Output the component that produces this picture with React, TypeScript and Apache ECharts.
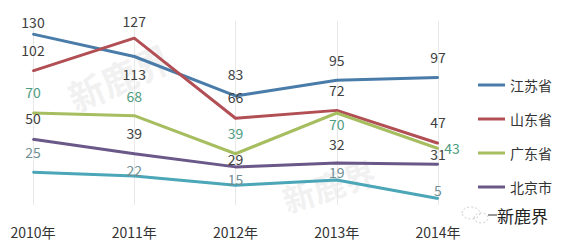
import React, { useEffect, useRef } from "react";
import * as echarts from "echarts";

const years = ["2010年", "2011年", "2012年", "2013年", "2014年"];
const jiangsu = [130, 113, 83, 95, 97];
const shandong = [102, 127, 66, 72, 47];
const guangdong = [70, 68, 39, 70, 43];
const beijing = [50, 39, 29, 32, 31];
const other = [25, 22, 15, 19, 5];

const seriesNames = ["江苏省", "山东省", "广东省", "北京市", "其他"];
const seriesValues = [jiangsu, shandong, guangdong, beijing, other];
const lineColors = ["#4a7ca9", "#b14f55", "#a6bd60", "#6a5889", "#4ba6b8"];
const labelColors = ["#404040", "#404040", "#4e9c80", "#404040", "#6f8f95"];
// label offsets (px) relative to each point: [dx, dy]
const labelOffsets: number[][][] = [
  [[0, -12], [0, 18], [0, -22], [0, -20], [0, -21]],
  [[0, -21], [0, -17], [0, -21], [0, -20], [0, -21]],
  [[0, -21], [0, -20], [0, -21], [0, 11], [14, 0]],
  [[0, -21], [0, -21], [0, -8], [0, -19], [0, -10]],
  [[0, -20], [0, -6], [0, -6], [0, -8], [0, -8]],
];

const FONT = "'Noto Sans CJK SC', 'Noto Sans', sans-serif";

export default function App() {
  const ref = useRef<HTMLDivElement>(null);
  useEffect(() => {
    if (!ref.current) return;
    const chart = echarts.init(ref.current, undefined, { renderer: "svg" });
    const series = seriesValues.map((vals, si) => ({
      name: seriesNames[si],
      type: "line",
      symbol: "circle",
      symbolSize: 2,
      z: 2 + si,
      lineStyle: { color: lineColors[si], width: 3 },
      itemStyle: { color: lineColors[si] },
      emphasis: { disabled: true },
      data: vals.map((v, i) => ({
        value: v,
        label: {
          show: true,
          position: "inside",
          offset: labelOffsets[si][i],
          color: labelColors[si],
          fontSize: 14,
          lineHeight: 14,
          fontFamily: FONT,
        },
      })),
    }));
    chart.setOption({
      animation: false,
      backgroundColor: "#ffffff",
      textStyle: { fontFamily: FONT },
      grid: { left: 33, right: 136, top: 21, bottom: 40 },
      xAxis: {
        type: "category",
        data: years,
        boundaryGap: false,
        axisLine: { show: false },
        axisTick: { show: false },
        splitLine: { show: true, lineStyle: { color: "#e8e8e8", width: 1 } },
        axisLabel: { margin: 20, fontSize: 14, color: "#333333", fontFamily: FONT },
      },
      yAxis: { type: "value", min: 0, max: 140, show: false },
      legend: {
        orient: "vertical",
        left: 473,
        top: 73,
        icon: "rect",
        itemWidth: 27,
        itemHeight: 3,
        itemGap: 20,
        data: seriesNames.slice(0, 4),
        textStyle: { fontSize: 14, lineHeight: 14, color: "#333333", fontFamily: FONT },
      },
      graphic: [
        {
          type: "text",
          x: 62,
          y: 82,
          rotation: 0.42,
          z: 0,
          style: {
            text: "新鹿界",
            fontSize: 36,
            fontWeight: "bold",
            fill: "rgba(200,200,200,0.25)",
            fontFamily: FONT,
          },
        },
        {
          type: "text",
          x: 278,
          y: 185,
          rotation: 0.32,
          z: 0,
          style: {
            text: "新鹿界",
            fontSize: 32,
            fontWeight: "bold",
            fill: "rgba(200,200,200,0.25)",
            fontFamily: FONT,
          },
        },
        {
          type: "ellipse",
          shape: { cx: 471, cy: 213, rx: 9, ry: 6 },
          style: { fill: "none", stroke: "#d0d0d0", lineWidth: 1, lineDash: [2, 2] },
        },
        {
          type: "ellipse",
          shape: { cx: 481, cy: 218, rx: 7, ry: 5 },
          style: { fill: "none", stroke: "#d0d0d0", lineWidth: 1, lineDash: [2, 2] },
        },
        {
          type: "line",
          shape: { x1: 488, y1: 215, x2: 497, y2: 215 },
          style: { stroke: "#333333", lineWidth: 1 },
        },
        {
          type: "text",
          x: 497,
          y: 215,
          style: {
            text: "新鹿界",
            fontSize: 17,
            fill: "#222222",
            verticalAlign: "middle",
            fontFamily: FONT,
          },
        },
      ],
      series,
    });
    return () => chart.dispose();
  }, []);
  return (
    <div
      ref={ref}
      style={{ position: "fixed", left: 0, top: 0, width: 574, height: 245, background: "#fff" }}
    />
  );
}
